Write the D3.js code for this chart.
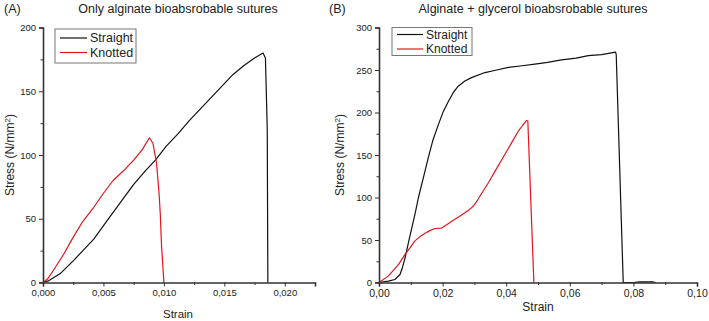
<!DOCTYPE html>
<html>
<head>
<meta charset="utf-8">
<script src="https://cdn.jsdelivr.net/npm/d3@7"></script>
<style>
  body { margin: 0; background: #fff; }
  text { font-family: "Liberation Sans", Arial, sans-serif; fill: #222; }
</style>
</head>
<body>
<script>
// (A) only alginate: [strain, stress]
var straightA = [[0,0],[0.0005,1.5],[0.0014,6.8],[0.0025,17],[0.0033,25],[0.0042,34],[0.0055,51],[0.0065,64],
  [0.0075,77],[0.0085,88],[0.0093,96],[0.0102,107],[0.0112,117],[0.0121,127],[0.0131,137],[0.0141,147],
  [0.015,156],[0.0157,163],[0.0166,170],[0.0175,176],[0.0182,180],[0.0184,176],[0.01855,120],[0.0186,0]];
var knottedA = [[0,0],[0.0004,3],[0.00085,9.4],[0.0017,22],[0.0025,35.6],[0.0033,48],[0.0042,59],[0.005,70],
  [0.0058,80],[0.0067,88],[0.0075,96],[0.0082,104],[0.0088,113.5],[0.0091,109],[0.0094,93],[0.0096,70],
  [0.0097,54],[0.0098,30],[0.0100,0]];

// (B) alginate + glycerol
var straightB = [[0,0],[0.0029,1.6],[0.005,3.5],[0.0066,9.4],[0.0074,18],[0.0082,29],[0.0092,46],[0.0103,64],
  [0.0114,82],[0.0124,100],[0.014,124],[0.0155,147],[0.017,168],[0.0187,186],[0.0202,201],[0.0218,213],
  [0.0233,223],[0.0249,231],[0.027,237],[0.0291,241],[0.0333,247],[0.037,250],[0.0407,253],[0.045,255],
  [0.049,257],[0.053,259],[0.0574,262],[0.062,264],[0.0658,267],[0.070,268],[0.0744,271],[0.0746,268],
  [0.0768,0],[0.08,0],[0.082,0.8],[0.086,0.8],[0.087,0]];
var knottedB = [[0,0],[0.0029,7.5],[0.0061,21],[0.0082,33],[0.0098,41],[0.0113,49],[0.0129,54],[0.0145,58],
  [0.016,61],[0.0176,63.5],[0.0197,64],[0.0213,68],[0.0229,72],[0.025,77],[0.027,82],[0.0285,86],[0.0297,90],
  [0.031,97],[0.0323,105],[0.0345,118],[0.0365,131],[0.0387,145],[0.0407,158],[0.0424,169],[0.0438,178],
  [0.0452,185],[0.0464,190.6],[0.0468,190],[0.0487,0]];

var xTicksA = [0, 0.005, 0.010, 0.015, 0.020];
var xTickLabelsA = ["0,000", "0,005", "0,010", "0,015", "0,020"];
var xMinorA = [0.0025, 0.0075, 0.0125, 0.0175, 0.0225];
var yTicksA = [0, 50, 100, 150, 200];
var yMinorA = [25, 75, 125, 175];

var xTicksB = [0, 0.02, 0.04, 0.06, 0.08, 0.10];
var xTickLabelsB = ["0,00", "0,02", "0,04", "0,06", "0,08", "0,10"];
var xMinorB = [0.01, 0.03, 0.05, 0.07, 0.09];
var yTicksB = [0, 50, 100, 150, 200, 250, 300];
var yMinorB = [25, 75, 125, 175, 225, 275];

var seriesNames = ["Straight", "Knotted"];
var seriesColors = ["#111", "#e3161d"];

var svg = d3.select('body').append('svg').attr('width', 709).attr('height', 321);

function drawPanel(p) {
  var g = svg.append('g');
  var x = d3.scaleLinear().domain(p.xDomain).range(p.xRange);
  var y = d3.scaleLinear().domain(p.yDomain).range([282.5, 27.5]);

  var line = d3.line().x(d => x(d[0])).y(d => y(d[1]));
  [p.straight, p.knotted].forEach(function(s, i) {
    g.append('path').datum(s).attr('d', line)
      .attr('fill', 'none').attr('stroke', seriesColors[i]).attr('stroke-width', 1.2)
      .attr('stroke-linejoin', 'round');
  });

  // x axis
  var xa = g.append('g').attr('transform', 'translate(0,282.5)')
    .call(d3.axisBottom(x).tickValues(p.xTicks).tickFormat((d, i) => p.xLabels[i]).tickSizeOuter(0).tickSize(4).tickPadding(3));
  g.append('g').attr('transform', 'translate(0,282.5)')
    .call(d3.axisBottom(x).tickValues(p.xMinor).tickFormat('').tickSizeOuter(0).tickSize(2.5))
    .select('.domain').remove();
  xa.selectAll('text').style('font-size', p.xFont + 'px');

  // y axis
  var ya = g.append('g').attr('transform', 'translate(' + p.xRange[0] + ',0)')
    .call(d3.axisLeft(y).tickValues(p.yTicks).tickSizeOuter(0).tickSize(4).tickPadding(3));
  g.append('g').attr('transform', 'translate(' + p.xRange[0] + ',0)')
    .call(d3.axisLeft(y).tickValues(p.yMinor).tickFormat('').tickSizeOuter(0).tickSize(2.5))
    .select('.domain').remove();
  ya.selectAll('text').style('font-size', '9.5px');

  g.selectAll('.domain').attr('stroke', '#333').attr('stroke-width', 1.6);
  g.selectAll('.tick line').attr('stroke', '#333');
  g.selectAll('.tick text').style('fill', '#222').style('font-family', '"Liberation Sans", Arial, sans-serif');

  // labels
  g.append('text').attr('x', p.panelX).attr('y', 13).style('font-size', '12.5px').text(p.panel);
  g.append('text').attr('x', p.titleX).attr('y', 13).attr('text-anchor', 'middle')
    .style('font-size', '12.5px').text(p.title);
  g.append('text').attr('x', p.strainX).attr('y', p.strainY).attr('text-anchor', 'middle')
    .style('font-size', p.strainFont + 'px').text('Strain');
  var yl = g.append('text').attr('transform', 'translate(' + p.stressX + ',155) rotate(-90)')
    .attr('text-anchor', 'middle').style('font-size', '12px');
  yl.append('tspan').text('Stress (N/mm');
  yl.append('tspan').attr('dy', -4).style('font-size', '8px').text('2');
  yl.append('tspan').attr('dy', 4).text(')');

  // legend
  var L = p.legend;
  g.append('rect').attr('x', L.x).attr('y', L.y).attr('width', L.w).attr('height', L.h)
    .attr('fill', '#fff').attr('stroke', '#777').attr('stroke-width', 1);
  seriesNames.forEach(function(n, i) {
    var ly = L.y + L.first + i * L.step;
    g.append('line').attr('x1', L.x + 5).attr('x2', L.x + L.lineLen).attr('y1', ly).attr('y2', ly)
      .attr('stroke', seriesColors[i]).attr('stroke-width', 1.2);
    g.append('text').attr('x', L.x + L.lineLen + 3).attr('y', ly + 4.3)
      .style('font-size', L.font + 'px').text(n);
  });
}

drawPanel({
  panel: '(A)', panelX: 4, title: 'Only alginate bioabsrobable sutures', titleX: 178,
  xDomain: [0, 0.0225], xRange: [43, 315], yDomain: [0, 200],
  xTicks: xTicksA, xLabels: xTickLabelsA, xMinor: xMinorA, yTicks: yTicksA, yMinor: yMinorA, xFont: 9.5,
  straight: straightA, knotted: knottedA,
  strainX: 178, strainY: 318, strainFont: 11.5, stressX: 14,
  legend: { x: 55, y: 29, w: 81, h: 34, first: 9, step: 14.5, lineLen: 32, font: 12.5 }
});

drawPanel({
  panel: '(B)', panelX: 329, title: 'Alginate + glycerol bioabsrobable sutures', titleX: 533,
  xDomain: [0, 0.10], xRange: [379, 697], yDomain: [0, 300],
  xTicks: xTicksB, xLabels: xTickLabelsB, xMinor: xMinorB, yTicks: yTicksB, yMinor: yMinorB, xFont: 10.5,
  straight: straightB, knotted: knottedB,
  strainX: 538, strainY: 311, strainFont: 12, stressX: 344,
  legend: { x: 392, y: 27.5, w: 80, h: 28, first: 7, step: 14.5, lineLen: 31, font: 12 }
});
</script>
</body>
</html>
